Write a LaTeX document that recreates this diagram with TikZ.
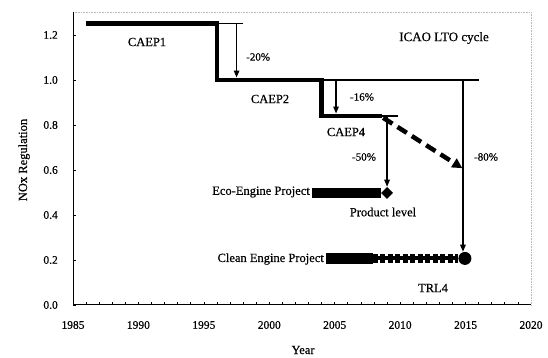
\documentclass[tikz,border=0pt]{standalone}
\usepackage{fontspec}
\setmainfont{Liberation Serif}[FakeBold=0.5]
\usetikzlibrary{arrows.meta,shapes.geometric}
\begin{document}
\begin{tikzpicture}[x=1pt,y=1pt,
  lbl/.style={font=\fontsize{12.5}{14}\selectfont, inner sep=0pt},
  pct/.style={font=\fontsize{11}{13}\selectfont, inner sep=0pt},
  ticklbl/.style={font=\fontsize{11.5}{13}\selectfont, inner sep=0pt},
  titlelbl/.style={font=\fontsize{13}{15}\selectfont, inner sep=0pt},
  thickline/.style={line width=4.5pt, line join=miter, line cap=butt},
  thinline/.style={line width=1.4pt},
  drop/.style={line width=1.4pt, -{Triangle[length=7pt,width=5.5pt]}},
  dasharrow/.style={line width=4.5pt, dash pattern=on 11pt off 6pt, -{Triangle[length=10pt,width=10pt]}},
  marker/.style={fill=black, inner sep=0pt},
  ]
\useasboundingbox (0,0) rectangle (548,358);
\fill[white] (0,0) rectangle (548,358);

\begin{scope}[shift={(73pt,53pt)}, x=13.086pt, y=225pt]
  % frame
  \draw[gray!55, densely dotted, line width=0.6pt] (0,1.3) -- (35,1.3) -- (35,0);
  \draw[line width=1pt] (0,1.3) -- (0,0) -- (35,0);
  % ticks
  \foreach \v/\t in {0/0.0,0.2/0.2,0.4/0.4,0.6/0.6,0.8/0.8,1.0/1.0,1.2/1.2} {
    \draw[line width=0.8pt] (0,\v) -- ++(3pt,0);
    \node[ticklbl, anchor=east, xshift=-15pt] (yl\t) at (0,\v) {\t};
  }
  \foreach \i in {1,...,34} \draw[line width=0.7pt] (\i,0) -- ++(0,2.5pt);
  \foreach \i/\t in {0/1985,5/1990,10/1995,15/2000,20/2005,25/2010,30/2015,35/2020}
    \node[ticklbl, yshift=-20pt] (xl\t) at (\i,0) {\t};

  % regulation steps
  \coordinate (c1s) at (1,1.25);
  \coordinate (c1e) at (11,1.25);
  \coordinate (c2s) at (11,1.0);
  \coordinate (c2e) at (19,1.0);
  \coordinate (c4s) at (19,0.84);
  \coordinate (c4e) at (23.6,0.84);
  \draw[thickline] (c1s) -- (c1e) -- (c2s) -- (c2e) -- (c4s) -- (c4e);
  \coordinate (t1) at (13,1.25);
  \coordinate (t2) at (31,1.0);
  \coordinate (t4) at (24.8,0.84);
  \draw[thinline] (c1e) -- (t1);
  \draw[thinline] (c2e) -- (t2);
  \draw[thinline] (c4e) -- (t4);

  % markers
  \node[marker, diamond, minimum size=12pt] (dia) at (24.0,0.498) {};
  \node[marker, circle, minimum size=13pt] (cir) at (29.95,0.207) {};

  % drop arrows
  \coordinate (a20s) at (12.5,1.25);
  \coordinate (a20e) at (12.5,1.011);
  \draw[drop] (a20s) -- (a20e);
  \coordinate (a16s) at (20.1,1.0);
  \coordinate (a16e) at (20.1,0.851);
  \draw[drop] (a16s) -- (a16e);
  \coordinate (a50s) at (24.0,0.84);
  \draw[drop] (a50s) -- (dia.north);
  \coordinate (a80s) at (29.8,1.0);
  \draw[drop] (a80s) -- (a80s |- cir.north);

  % dashed trend
  \coordinate (ds) at (23.7,0.832);
  \coordinate (de) at (29.75,0.608);
  \draw[dasharrow] (ds) -- (de);

  % project bars
  \coordinate (ecos) at (18.26,0.498);
  \draw[line width=10pt] (ecos) -- (dia.west);
  \coordinate (cls) at (19.33,0.207);
  \coordinate (clm) at (22.9,0.207);
  \draw[line width=11pt] (cls) -- (clm);
  \draw[line width=4pt] (clm) -- (cir.west);
  \draw[line width=9.5pt, dash pattern=on 5pt off 2.5pt] (clm) -- (cir.west);
\end{scope}

% labels
\node[lbl] (caep1) at (147,316) {CAEP1};
\node[pct, anchor=west] (p20) at (246,301) {-20\%};
\node[titlelbl] (icao) at (444,320) {ICAO LTO cycle};
\node[lbl] (caep2) at (270,259) {CAEP2};
\node[pct] (p16) at (362,261) {-16\%};
\node[lbl] (caep4) at (346,226) {CAEP4};
\node[pct] (p50) at (364,201) {-50\%};
\node[pct] (p80) at (486,201) {-80\%};
\node[lbl, anchor=east] (eco) at (310,166) {Eco-Engine Project};
\node[lbl] (prod) at (383,146) {Product level};
\node[lbl, anchor=east] (clean) at (324,99) {Clean Engine Project};
\node[lbl] (trl) at (433,70) {TRL4};
\node[lbl] (year) at (303,8) {Year};
\node[lbl, rotate=90] (nox) at (24,198) {NOx Regulation};
\end{tikzpicture}
\end{document}
